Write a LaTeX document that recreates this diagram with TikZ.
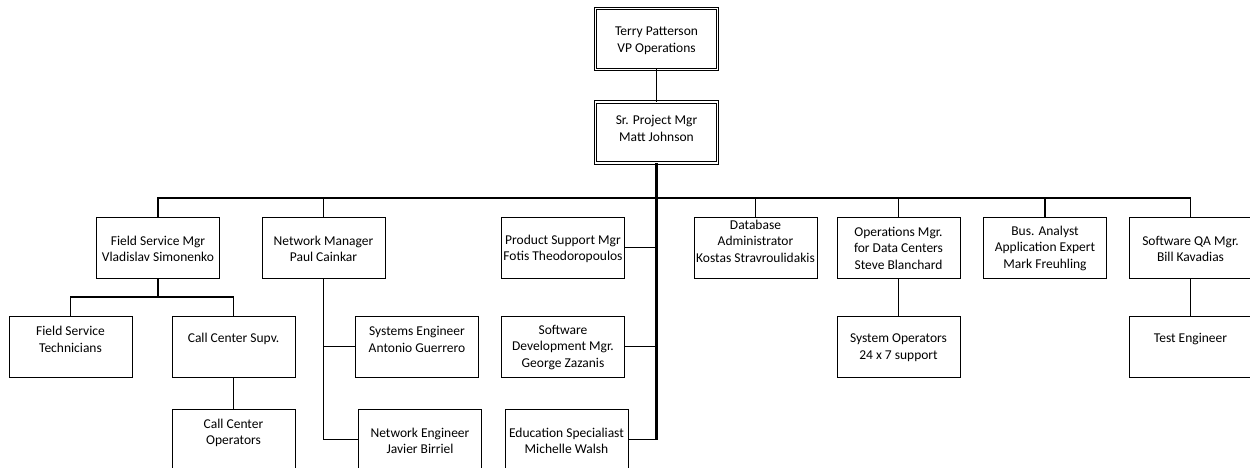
\documentclass[tikz,border=0pt]{standalone}
\usepackage{fontspec}
\setmainfont{Carlito}
\begin{document}
\begin{tikzpicture}[x=1pt,y=-1pt,
  box/.style={draw, line width=1pt, minimum width=123pt, minimum height=61pt, inner sep=0pt, outer sep=0pt},
  dbox/.style={draw, double, double distance=1.6pt, line width=0.8pt, minimum width=122pt, minimum height=61pt, inner sep=0pt, outer sep=0pt},
  txt/.style={align=center, inner sep=0pt, font=\fontsize{13.5}{16.5}\selectfont},
  link/.style={line width=1.2pt},
  trunk/.style={line width=2.2pt}]
\useasboundingbox (0,0) rectangle (1250,468);
\clip (0,0) rectangle (1250,468);

% boxes
\node[dbox] (vp)  at (656.5,39)    {};
\node[dbox] (spm) at (656.5,132.5) {};

\node[box] (fsm)  at (158,247.5)    {};
\node[box] (nm)   at (323.5,247.5)  {};
\node[box] (psm)  at (563,247.5)    {};
\node[box] (dba)  at (755.5,247.5)  {};
\node[box] (ops)  at (898.5,247.5)  {};
\node[box] (ba)   at (1045,247.5)   {};
\node[box] (qa)   at (1190.5,247.5) {};

\node[box] (fst)  at (70.5,346.5)   {};
\node[box] (ccs)  at (233.5,346.5)  {};
\node[box] (se)   at (417,346.5)    {};
\node[box] (sdm)  at (563,346.5)    {};
\node[box] (sop)  at (898.5,346.5)  {};
\node[box] (te)   at (1190.5,346.5) {};

\node[box] (cco)  at (233.5,439.5)  {};
\node[box] (ne)   at (420,439.5)    {};
\node[box] (edu)  at (566.5,439.5)  {};

% labels
\node[txt] at (656.5,41)   {Terry Patterson\\VP Operations};
\node[txt] at (656.5,128.5){Sr. Project Mgr\\Matt Johnson};
\node[txt] at (158,249)    {Field Service Mgr\\Vladislav Simonenko};
\node[txt] at (323.5,249)  {Network Manager\\Paul Cainkar};
\node[txt] at (563,249)    {Product Support Mgr\\Fotis Theodoropoulos};
\node[txt] at (755.5,241)  {Database\\Administrator\\Kostas Stravroulidakis};
\node[txt] at (898.5,248)  {Operations Mgr.\\for Data Centers\\Steve Blanchard};
\node[txt] at (1045,248)   {Bus. Analyst\\Application Expert\\Mark Freuhling};
\node[txt] at (1190.5,249) {Software QA Mgr.\\Bill Kavadias};
\node[txt] at (70.5,339.5) {Field Service\\Technicians};
\node[txt] at (233.5,339)  {Call Center Supv.};
\node[txt] at (417,339.5)  {Systems Engineer\\Antonio Guerrero};
\node[txt] at (563,347.5)  {Software\\Development Mgr.\\George Zazanis};
\node[txt] at (898.5,347.5){System Operators\\24 x 7 support};
\node[txt] at (1190.5,339) {Test Engineer};
\node[txt] at (233.5,433)  {Call Center\\Operators};
\node[txt] at (420,441)    {Network Engineer\\Javier Birriel};
\node[txt] at (566.5,441)  {Education Specialiast\\Michelle Walsh};

% connectors
\draw[link] (vp.south) -- (spm.north);
\coordinate (bar) at (656.5,198);
\draw[trunk] (spm.south) -- (spm.south |- edu.east);
\draw[link] (fsm.north) |- (bar) -| (qa.north);
\foreach \n in {nm,dba,ops,ba}
  \draw[link] (\n.north) -- (\n.north |- bar);
\draw[link] (psm.east) -- (psm.east -| spm.south);
\draw[link] (sdm.east) -- (sdm.east -| spm.south);
\draw[link] (edu.east) -- (edu.east -| spm.south);

\draw[trunk] (fsm.south) -- ++(0,19) coordinate (fsb);
\draw[link] (fst.north) |- (fsb) -| (ccs.north);
\draw[link] (ccs.south) -- (cco.north);

\draw[link] (nm.south) |- (ne.west);
\draw[link] (nm.south |- se.west) -- (se.west);

\draw[link] (ops.south) -- (sop.north);
\draw[link] (qa.south) -- (te.north);
\end{tikzpicture}
\end{document}
